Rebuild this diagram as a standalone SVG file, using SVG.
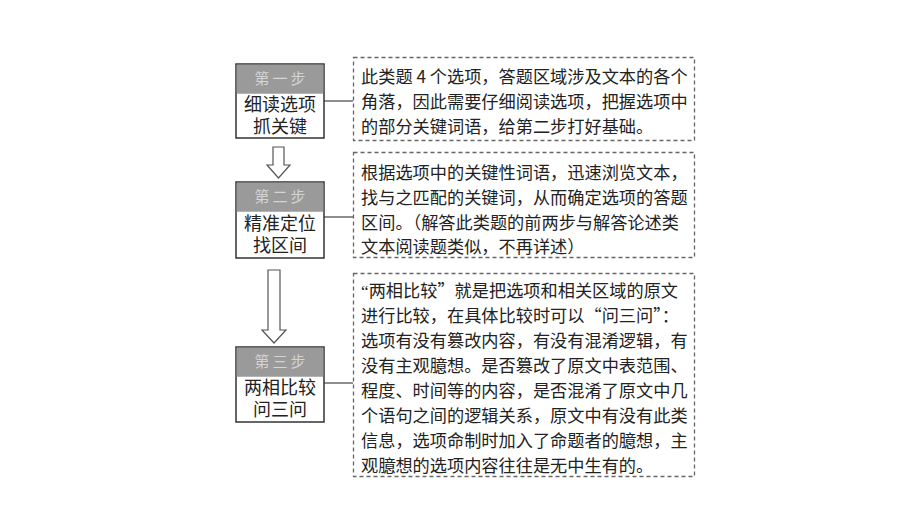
<svg xmlns="http://www.w3.org/2000/svg" width="920" height="518" viewBox="0 0 920 518">
<style>
.bg{fill:#ffffff}
.step{fill:#ffffff;stroke:#333333;stroke-width:1.5}
.hdr{fill:#9a9a9a}
.hdrtxt{font-family:"Liberation Serif","Noto Sans CJK SC",serif;font-size:15px;fill:#d4d4d4;text-anchor:middle;letter-spacing:3px}
.lbl{font-family:"Liberation Serif","Noto Sans CJK SC",serif;font-size:18px;fill:#222222;text-anchor:middle}
.desc{fill:none;stroke:#666666;stroke-width:1.3;stroke-dasharray:4 3}
.body{font-family:"Noto Sans CJK SC","Liberation Serif",sans-serif;font-size:17.2px;fill:#222222}
.lq{font-family:"Liberation Serif",serif}
.conn{fill:none;stroke:#444444;stroke-width:1.2}
.arrow{fill:#ffffff;stroke:#555555;stroke-width:1.2}
</style>
<rect class="bg" x="0" y="0" width="920" height="518"/>

<g id="connectors">
  <line class="conn" x1="324" y1="101" x2="353" y2="101"/>
  <line class="conn" x1="324" y1="217" x2="353" y2="217"/>
  <line class="conn" x1="324" y1="383" x2="353" y2="383"/>
  <polygon class="arrow" points="273,147 284,147 284,165 290,165 278.5,178 267,165 273,165"/>
  <polygon class="arrow" points="268,270 280,270 280,330 286,330 274,343 262,330 268,330"/>
</g>

<g id="step1">
  <rect class="step" x="236" y="64" width="88" height="74"/>
  <rect class="hdr" x="236.75" y="64.75" width="86.5" height="29"/>
  <text class="hdrtxt" x="281.5" y="84">第一步</text>
  <text class="lbl" x="280" y="111">细读选项</text>
  <text class="lbl" x="280" y="133">抓关键</text>
</g>

<g id="step2">
  <rect class="step" x="236" y="182" width="88" height="76"/>
  <rect class="hdr" x="236.75" y="182.75" width="86.5" height="29"/>
  <text class="hdrtxt" x="281.5" y="202">第二步</text>
  <text class="lbl" x="280" y="230">精准定位</text>
  <text class="lbl" x="280" y="252">找区间</text>
</g>

<g id="step3">
  <rect class="step" x="236" y="347" width="88" height="75"/>
  <rect class="hdr" x="236.75" y="347.75" width="86.5" height="29"/>
  <text class="hdrtxt" x="281.5" y="367">第三步</text>
  <text class="lbl" x="280" y="394">两相比较</text>
  <text class="lbl" x="280" y="416">问三问</text>
</g>

<g id="desc1">
  <rect class="desc" x="353.5" y="57.5" width="341" height="83"/>
  <text class="body" x="361" y="83">此类题 4 个选项，答题区域涉及文本的各个</text>
  <text class="body" x="361" y="108">角落，因此需要仔细阅读选项，把握选项中</text>
  <text class="body" x="361" y="133">的部分关键词语，给第二步打好基础。</text>
</g>

<g id="desc2">
  <rect class="desc" x="353.5" y="152.5" width="341" height="105"/>
  <text class="body" x="361" y="179">根据选项中的关键性词语，迅速浏览文本，</text>
  <text class="body" x="361" y="204">找与之匹配的关键词，从而确定选项的答题</text>
  <text class="body" x="361" y="229">区间。（解答此类题的前两步与解答论述类</text>
  <text class="body" x="361" y="253">文本阅读题类似，不再详述）</text>
</g>

<g id="desc3">
  <rect class="desc" x="353.5" y="273.5" width="341" height="203"/>
  <text class="body" x="361" y="297"><tspan class="lq">“</tspan>两相比较”就是把选项和相关区域的原文</text>
  <text class="body" x="361" y="322">进行比较，在具体比较时可以“问三问”：</text>
  <text class="body" x="361" y="347">选项有没有篡改内容，有没有混淆逻辑，有</text>
  <text class="body" x="361" y="372">没有主观臆想。是否篡改了原文中表范围、</text>
  <text class="body" x="361" y="397">程度、时间等的内容，是否混淆了原文中几</text>
  <text class="body" x="361" y="422">个语句之间的逻辑关系，原文中有没有此类</text>
  <text class="body" x="361" y="447">信息，选项命制时加入了命题者的臆想，主</text>
  <text class="body" x="361" y="472">观臆想的选项内容往往是无中生有的。</text>
</g>
</svg>
